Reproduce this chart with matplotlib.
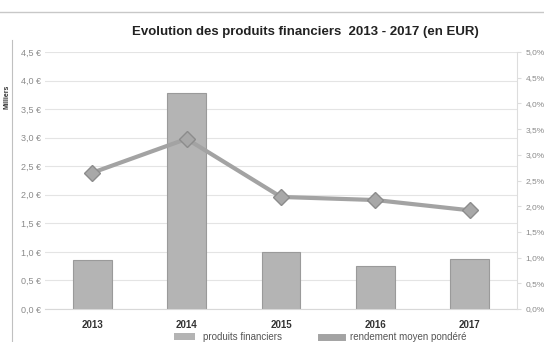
import matplotlib
matplotlib.use("Agg")
import matplotlib.pyplot as plt
from matplotlib.lines import Line2D
from matplotlib.patches import Patch

years = ["2013", "2014", "2015", "2016", "2017"]
produits = [0.86, 3.79, 1.00, 0.75, 0.88]          # milliers EUR
rendement = [2.65, 3.31, 2.18, 2.12, 1.92]          # %
left_ticks = [0.0, 0.5, 1.0, 1.5, 2.0, 2.5, 3.0, 3.5, 4.0, 4.5]
left_labels = ["0,0 €", "0,5 €", "1,0 €", "1,5 €", "2,0 €", "2,5 €", "3,0 €", "3,5 €", "4,0 €", "4,5 €"]
right_ticks = [0.0, 0.5, 1.0, 1.5, 2.0, 2.5, 3.0, 3.5, 4.0, 4.5, 5.0]
right_labels = ["0,0%", "0,5%", "1,0%", "1,5%", "2,0%", "2,5%", "3,0%", "3,5%", "4,0%", "4,5%", "5,0%"]

plt.rcParams['font.family'] = ['Liberation Sans', 'DejaVu Sans']

W, H = 544, 342
fig = plt.figure(figsize=(W / 100, H / 100), dpi=100)
ax = fig.add_axes([45 / W, 1 - 309 / H, (517 - 45) / W, (309 - 52) / H])
ax2 = ax.twinx()

x = range(len(years))
ax.bar(x, produits, width=0.41, color="#b4b4b4", edgecolor="#9a9a9a", linewidth=0.8, zorder=2)
ax.set_xlim(-0.5, 4.5)
ax.set_ylim(0, 4.5)
ax.set_yticks(left_ticks)
ax.set_yticklabels(left_labels)
ax.grid(axis="y", color="#e4e4e4", linewidth=0.8, zorder=0)
ax.set_axisbelow(True)
ax.set_xticks(list(x))
ax.set_xticklabels(years, fontsize=7, fontweight="bold", color="#333333")
ax.tick_params(axis="x", length=0, pad=8)
ax.tick_params(axis="y", length=0, labelsize=6.5, labelcolor="#8a8a8a", pad=3)
for s in ["top", "right"]:
    ax.spines[s].set_visible(False)
ax.spines["left"].set_visible(False)
ax.spines["bottom"].set_color("#d8d8d8")

ax2.plot(list(x), rendement, color="#a3a3a3", linewidth=3, marker="D", markersize=8,
         markerfacecolor="#a8a8a8", markeredgecolor="#8c8c8c", zorder=3)
ax2.set_ylim(0, 5.0)
ax2.set_yticks(right_ticks)
ax2.set_yticklabels(right_labels)
ax2.tick_params(axis="y", length=3, color="#dddddd", labelsize=6, labelcolor="#8a8a8a", pad=3)
for s in ["top", "left", "bottom"]:
    ax2.spines[s].set_visible(False)
ax2.spines["right"].set_color("#dddddd")

fig.text(305 / W, 1 - 32 / H, "Evolution des produits financiers  2013 - 2017 (en EUR)",
         ha="center", va="center", fontsize=9.5, fontweight="bold", color="#222222")
fig.text(7 / W, 1 - 97 / H, "Milliers", rotation=90, ha="center", va="center",
         fontsize=5, fontweight="bold", color="#333333")

fig.add_artist(Line2D([0, 1], [1 - 12 / H, 1 - 12 / H], transform=fig.transFigure,
                      color="#c8c8c8", linewidth=1))
fig.add_artist(Line2D([12 / W, 12 / W], [0, 1 - 40 / H], transform=fig.transFigure,
                      color="#c0c0c0", linewidth=0.8))

handles = [Patch(facecolor="#b4b4b4", edgecolor="none"),
           Line2D([0], [0], color="#a3a3a3", linewidth=5)]
fig.legend(handles, ["produits financiers", "rendement moyen pondéré"], loc="center",
           bbox_to_anchor=(320 / W, 1 - 337 / H), ncol=2, frameon=False, fontsize=7,
           handlelength=2.2, columnspacing=4, labelcolor="#555555")

fig.savefig("out.png", dpi=100)
